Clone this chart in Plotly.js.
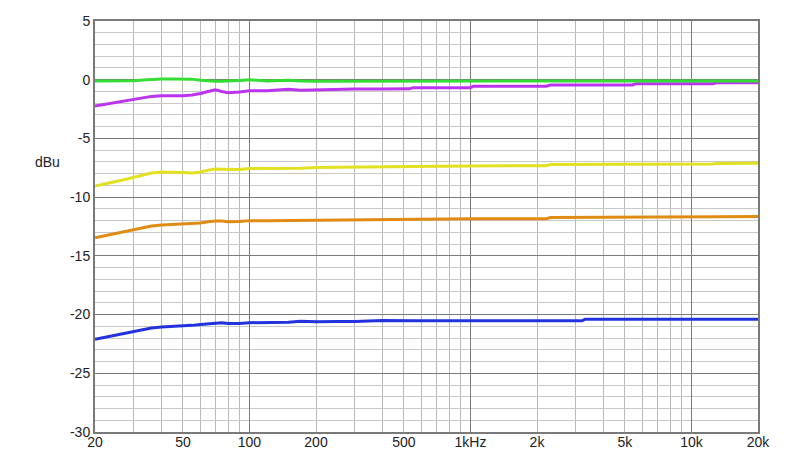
<!DOCTYPE html>
<html>
<head>
<meta charset="utf-8">
<script src="https://cdn.plot.ly/plotly-3.0.1.min.js"></script>
<style>
  body { margin: 0; background: #fff; }
  #plot { width: 799px; height: 469px; }
</style>
</head>
<body>
<div id="plot"></div>
<script>
// frequency points (Hz), shared by all curves
var freq = [20, 22, 25, 28, 30, 33, 36, 40, 45, 50, 55, 60, 65, 70, 75, 80, 90, 100, 120, 150, 170, 200, 250, 300, 400, 530, 550, 1000, 1030, 2200, 2300, 3200, 3300, 5400, 5600, 12500, 13000, 20000];

// levels in dBu
var green  = [-0.11, -0.11, -0.11, -0.10, -0.08, -0.02, 0.03, 0.06, 0.06, 0.06, 0.05, -0.05, -0.12, -0.14, -0.14, -0.13, -0.06, 0.00, -0.12, -0.05, -0.12, -0.13, -0.13, -0.13, -0.13, -0.13, -0.13, -0.12, -0.12, -0.12, -0.12, -0.12, -0.12, -0.10, -0.10, -0.10, -0.10, -0.10];
var purple = [-2.24, -2.10, -1.95, -1.80, -1.68, -1.55, -1.42, -1.37, -1.37, -1.36, -1.30, -1.18, -1.00, -0.85, -1.00, -1.10, -1.04, -0.95, -0.95, -0.82, -0.90, -0.87, -0.78, -0.80, -0.79, -0.78, -0.68, -0.68, -0.55, -0.55, -0.45, -0.45, -0.45, -0.45, -0.35, -0.35, -0.26, -0.25];
var yellow = [-9.06, -8.90, -8.65, -8.45, -8.30, -8.10, -7.95, -7.86, -7.86, -7.90, -7.94, -7.86, -7.70, -7.60, -7.62, -7.65, -7.65, -7.57, -7.57, -7.52, -7.55, -7.48, -7.45, -7.42, -7.40, -7.38, -7.38, -7.35, -7.35, -7.32, -7.22, -7.22, -7.22, -7.22, -7.22, -7.18, -7.13, -7.12];
var orange = [-13.46, -13.30, -13.05, -12.85, -12.74, -12.60, -12.45, -12.37, -12.33, -12.30, -12.25, -12.20, -12.10, -12.03, -12.03, -12.10, -12.08, -12.00, -12.00, -11.98, -11.93, -11.97, -11.92, -11.92, -11.85, -11.85, -11.83, -11.83, -11.83, -11.83, -11.73, -11.73, -11.73, -11.73, -11.73, -11.73, -11.67, -11.65];
var blue   = [-22.10, -21.95, -21.75, -21.55, -21.46, -21.30, -21.15, -21.05, -21.02, -21.00, -20.92, -20.85, -20.80, -20.77, -20.70, -20.77, -20.77, -20.69, -20.68, -20.66, -20.57, -20.62, -20.60, -20.60, -20.50, -20.53, -20.53, -20.53, -20.53, -20.53, -20.53, -20.53, -20.40, -20.40, -20.40, -20.40, -20.40, -20.40];

// tick labels
var labelVals = [20, 50, 100, 200, 500, 1000, 2000, 5000, 10000, 20000];
var labelText = ['20', '50', '100', '200', '500', '1kHz', '2k', '5k', '10k', '20k'];
var decadeVals = [100, 1000, 10000];
var yVals = [5, 0, -5, -10, -15, -20, -25, -30];
var yText = ['5', '0', '-5', '-10', '-15', '-20', '-25', '-30'];

// minor grid: every 2..9 multiple of each decade
var minorVals = [];
[10, 100, 1000, 10000].forEach(function(d) {
  for (var m = 2; m <= 9; m++) {
    var v = m * d;
    if (v >= 20 && v <= 20000) minorVals.push(v);
  }
});

function curve(y, color, xa) {
  return {
    x: freq, y: y, type: 'scatter', mode: 'lines',
    xaxis: xa || 'x',
    line: { color: color, width: 3 },
    hoverinfo: 'skip', showlegend: false
  };
}

var data = [
  curve(blue, '#2233dd'),
  curve(orange, '#e08c14'),
  curve(yellow, '#e2e022'),
  curve(purple, '#bb33ee'),
  curve(green, '#33dd33', 'x2')
];

var font = { family: 'Liberation Sans, Arial, sans-serif', size: 14, color: '#222' };
var xr = [Math.log10(20), Math.log10(20000)];

var layout = {
  width: 799,
  height: 469,
  margin: { l: 95, r: 41, t: 21, b: 37 },
  paper_bgcolor: '#fff',
  plot_bgcolor: '#fff',
  font: font,
  xaxis: {
    type: 'log',
    range: xr,
    tickmode: 'array',
    tickvals: decadeVals,
    showticklabels: false,
    ticks: '',
    showgrid: true,
    gridcolor: '#7a7a7a',
    gridwidth: 1,
    minor: { tickmode: 'array', tickvals: minorVals, showgrid: true, gridcolor: '#b8b8b8', gridwidth: 1, ticks: '' },
    showline: true,
    linecolor: '#7a7a7a',
    linewidth: 2,
    mirror: true,
    zeroline: false
  },
  xaxis2: {
    type: 'log',
    range: xr,
    overlaying: 'x',
    anchor: 'y',
    side: 'bottom',
    tickmode: 'array',
    tickvals: labelVals,
    ticktext: labelText,
    ticks: '',
    showgrid: false,
    showline: false,
    zeroline: false,
    tickfont: font
  },
  yaxis: {
    range: [-30, 5],
    tickmode: 'array',
    tickvals: yVals,
    ticktext: yText,
    ticks: '',
    showgrid: true,
    gridcolor: '#7a7a7a',
    gridwidth: 1,
    minor: { tickmode: 'linear', tick0: 0, dtick: 1, showgrid: true, gridcolor: '#c8c8c8', gridwidth: 1, ticks: '' },
    showline: true,
    linecolor: '#7a7a7a',
    linewidth: 2,
    mirror: true,
    zeroline: false,
    tickfont: font
  },
  annotations: [
    {
      text: 'dBu', showarrow: false,
      xref: 'paper', yref: 'paper',
      x: -0.072, y: 0.657,
      xanchor: 'center', yanchor: 'middle',
      font: font
    }
  ]
};

Plotly.newPlot('plot', data, layout, { displayModeBar: false, staticPlot: true });
</script>
</body>
</html>
